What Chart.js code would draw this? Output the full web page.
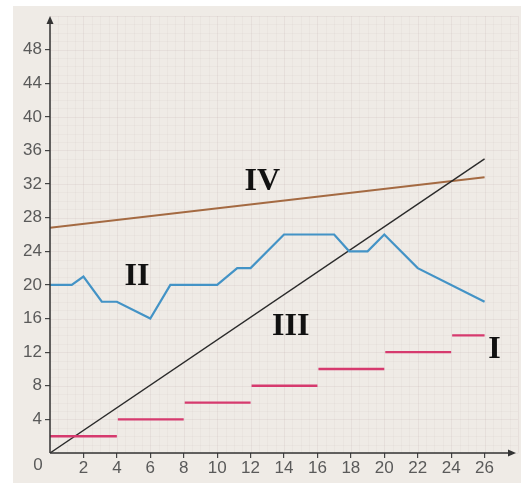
<!DOCTYPE html>
<html>
<head>
<meta charset="utf-8">
<script src="https://cdn.jsdelivr.net/npm/chart.js@4.4.1/dist/chart.umd.min.js"></script>
<style>
  html, body { margin: 0; padding: 0; background: #fff; }
  #wrap { width: 526px; height: 483px; position: relative; }
</style>
</head>
<body>
<div id="wrap"><canvas id="chart"></canvas></div>
<script>
// tick labels
const xTickLabels = [2, 4, 6, 8, 10, 12, 14, 16, 18, 20, 22, 24, 26];
const yTickLabels = [4, 8, 12, 16, 20, 24, 28, 32, 36, 40, 44, 48];

// I: step segments
const stepStarts = [0, 4, 8, 12, 16, 20, 24];
const stepEnds = [4, 8, 12, 16, 20, 24, 26];
const stepValues = [2, 4, 6, 8, 10, 12, 14];

// II: broken line
const seriesIIx = [0, 1.3, 2, 3.1, 4, 6, 7.2, 10, 11.2, 12, 14, 17, 17.9, 19, 20, 22, 26];
const seriesIIy = [20, 20, 21, 18, 18, 16, 20, 20, 22, 22, 26, 26, 24, 24, 26, 22, 18];

// III and IV: straight lines
const seriesIIIx = [0, 26];
const seriesIIIy = [0, 35];
const seriesIVx = [0, 26];
const seriesIVy = [26.8, 32.8];

const curveNames = ["I", "II", "III", "IV"];

function stepPoints() {
    const pts = [];
    stepValues.forEach((v, i) => {
        pts.push({ x: stepStarts[i] + (i ? 0.06 : 0), y: v });
        pts.push({ x: stepEnds[i], y: v });
        pts.push({ x: stepEnds[i], y: null });
    });
    return pts;
}
const zip = (xs, ys) => xs.map((x, i) => ({ x: x, y: ys[i] }));

const paperPlugin = {
    id: "paper",
    beforeDraw(chart) {
        const c = chart.ctx, a = chart.chartArea;
        const xs = chart.scales.x, ys = chart.scales.y;
        c.save();
        c.fillStyle = "#ffffff";
        c.fillRect(0, 0, chart.width, chart.height);
        c.fillStyle = "#efebe6";
        c.fillRect(13, 6, 508, 477);
        // faint graph paper grid
        c.lineWidth = 1;
        for (let v = 0; v <= 28; v += 0.5) {
            const px = Math.round(xs.getPixelForValue(v)) + 0.5;
            c.strokeStyle = (v % 2 === 0) ? "rgba(170,150,150,0.13)" : "rgba(170,150,150,0.07)";
            c.beginPath(); c.moveTo(px, a.top); c.lineTo(px, a.bottom); c.stroke();
        }
        for (let v = 0; v <= 52; v += 1) {
            const py = Math.round(ys.getPixelForValue(v)) + 0.5;
            c.strokeStyle = (v % 4 === 0) ? "rgba(170,150,150,0.13)" : "rgba(170,150,150,0.07)";
            c.beginPath(); c.moveTo(a.left, py); c.lineTo(a.right, py); c.stroke();
        }
        c.restore();
    },
    afterDraw(chart) {
        const c = chart.ctx, a = chart.chartArea;
        const xs = chart.scales.x, ys = chart.scales.y;
        c.save();
        c.strokeStyle = "#333";
        c.fillStyle = "#333";
        c.lineWidth = 1.5;
        const x0 = xs.getPixelForValue(0), y0 = ys.getPixelForValue(0);
        c.beginPath(); c.moveTo(x0, y0); c.lineTo(x0, a.top + 4); c.stroke();
        c.beginPath(); c.moveTo(x0, y0); c.lineTo(a.right - 4, y0); c.stroke();
        c.beginPath(); c.moveTo(x0, a.top); c.lineTo(x0 - 3.5, a.top + 8); c.lineTo(x0 + 3.5, a.top + 8); c.closePath(); c.fill();
        c.beginPath(); c.moveTo(a.right - 2, y0); c.lineTo(a.right - 10, y0 - 3.5); c.lineTo(a.right - 10, y0 + 3.5); c.closePath(); c.fill();
        // origin label
        c.fillStyle = "#5a5a5a";
        c.font = "17px 'Liberation Sans', Arial, sans-serif";
        c.textAlign = "center";
        c.textBaseline = "middle";
        c.fillText("0", x0 - 12, y0 + 12);
        // curve names
        const pos = chart.options.plugins.paper.names;
        c.fillStyle = "#111";
        c.font = "bold 32px 'Liberation Serif', 'Times New Roman', serif";
        curveNames.forEach((n, i) => {
            c.fillText(n, xs.getPixelForValue(pos[i][0]), ys.getPixelForValue(pos[i][1]));
        });
        c.restore();
    }
};

new Chart(document.getElementById("chart"), {
    type: "line",
    data: {
        datasets: [
            { data: stepPoints(), borderColor: "#d63a6e", borderWidth: 2.4, spanGaps: false },
            { data: zip(seriesIIx, seriesIIy), borderColor: "#4393c6", borderWidth: 2.2 },
            { data: zip(seriesIIIx, seriesIIIy), borderColor: "#2a2a2a", borderWidth: 1.4 },
            { data: zip(seriesIVx, seriesIVy), borderColor: "#a46a42", borderWidth: 2 }
        ]
    },
    options: {
        responsive: true,
        maintainAspectRatio: false,
        animation: false,
        layout: { padding: { top: 16, right: 8, left: 0, bottom: 0 } },
        elements: { point: { radius: 0 }, line: { tension: 0, borderCapStyle: "butt" } },
        scales: {
            x: {
                type: "linear", min: 0, max: 28,
                afterFit: s => { s.height = 30; },
                afterBuildTicks: s => { s.ticks = [0].concat(xTickLabels, [28]).map(v => ({ value: v })); },
                border: { display: false },
                grid: {
                    drawOnChartArea: false, tickLength: 5, lineWidth: 1.2,
                    color: ctx => xTickLabels.includes(ctx.tick.value) ? "#444" : "transparent"
                },
                ticks: {
                    padding: 0, color: "#5a5a5a", maxRotation: 0, autoSkip: false,
                    font: { family: "'Liberation Sans', Arial, sans-serif", size: 17 },
                    callback: v => xTickLabels.includes(v) ? String(v) : ""
                }
            },
            y: {
                type: "linear", min: 0, max: 52,
                afterFit: s => { s.width = 50; },
                afterBuildTicks: s => { s.ticks = [0].concat(yTickLabels, [52]).map(v => ({ value: v })); },
                border: { display: false },
                grid: {
                    drawOnChartArea: false, tickLength: 5, lineWidth: 1.2,
                    color: ctx => yTickLabels.includes(ctx.tick.value) ? "#444" : "transparent"
                },
                ticks: {
                    padding: 3, color: "#5a5a5a", autoSkip: false,
                    font: { family: "'Liberation Sans', Arial, sans-serif", size: 17 },
                    callback: v => yTickLabels.includes(v) ? String(v) : ""
                }
            }
        },
        plugins: {
            legend: { display: false },
            tooltip: { enabled: false },
            paper: { names: [[26.6, 12.3], [5.2, 21], [14.4, 15], [12.7, 32.3]] }
        }
    },
    plugins: [paperPlugin]
});
</script>
</body>
</html>
